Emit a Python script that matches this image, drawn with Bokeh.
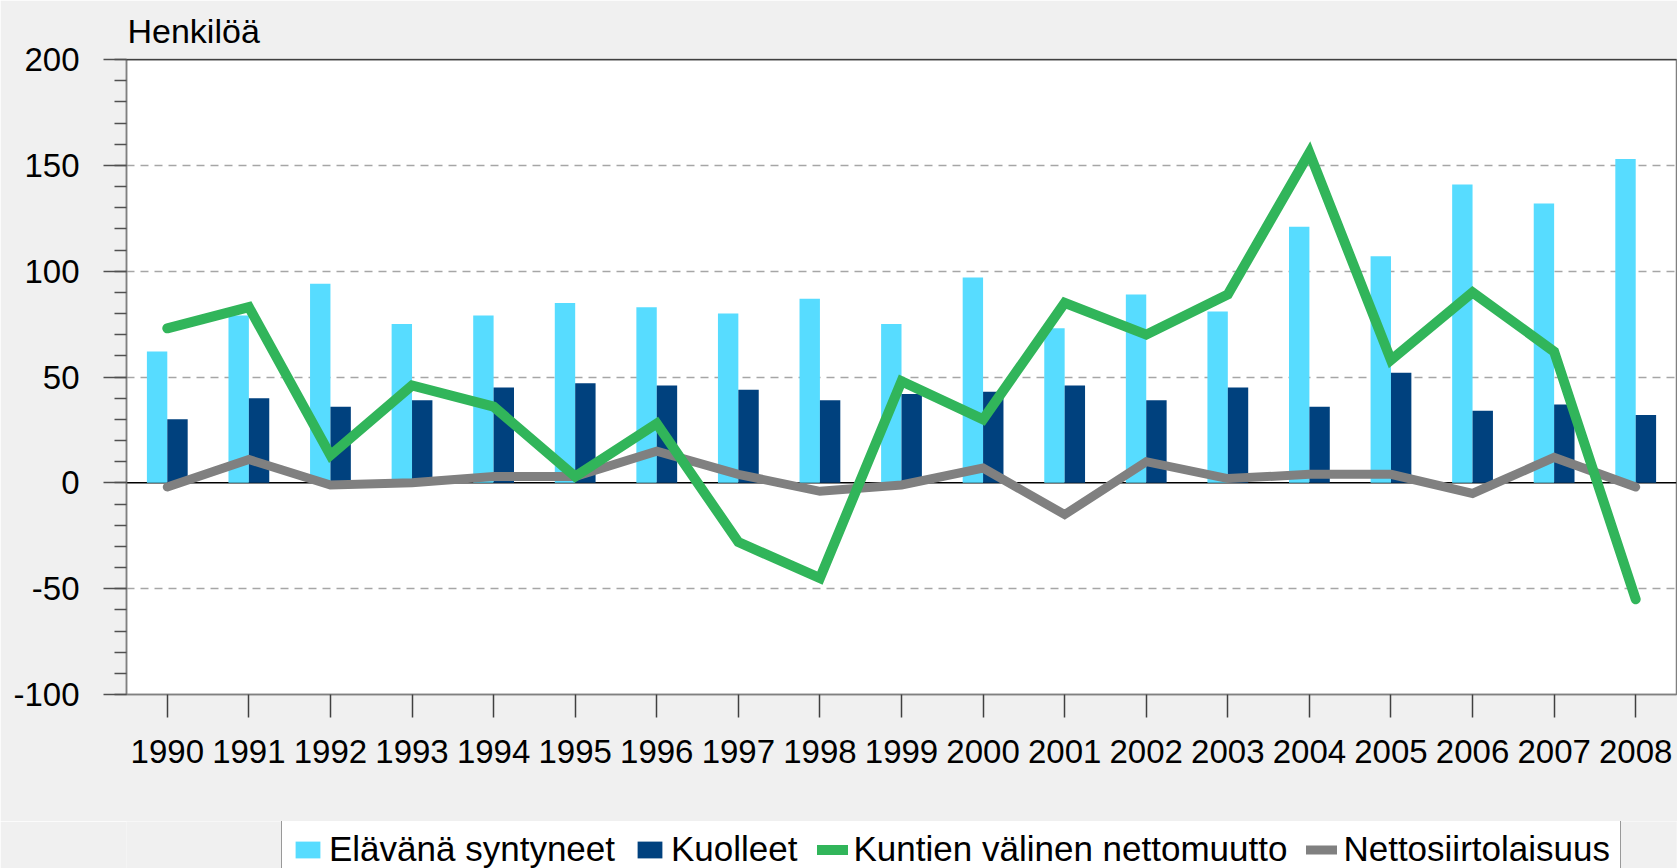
from bokeh.plotting import figure
from bokeh.layouts import column
from bokeh.models import (ColumnDataSource, FactorRange, Range1d, SingleIntervalTicker,
                          FixedTicker, Span, Legend, LegendItem, PrintfTickFormatter)
from bokeh.transform import dodge
from bokeh.embed import file_html
from bokeh.resources import INLINE

# ---- data ----
years = ["1990", "1991", "1992", "1993", "1994", "1995", "1996", "1997", "1998", "1999",
         "2000", "2001", "2002", "2003", "2004", "2005", "2006", "2007", "2008"]
born = [62, 79, 94, 75, 79, 85, 83, 80, 87, 75, 97, 73, 89, 81, 121, 107, 141, 132, 153]
died = [30, 40, 36, 39, 45, 47, 46, 44, 39, 42, 43, 46, 39, 45, 36, 52, 34, 37, 32]
net_domestic = [73, 83, 13, 46, 36, 3, 28, -28, -45, 48, 30, 85, 70, 89, 156, 58, 90, 62, -55]
net_migration = [-2, 11, -1, 0, 3, 3, 15, 4, -4, -1, 7, -15, 10, 2, 4, 4, -5, 12, -2]

series_names = ["Elävänä syntyneet", "Kuolleet", "Kuntien välinen nettomuutto", "Nettosiirtolaisuus"]
y_title = "Henkilöä"

FONT = "Liberation Sans"
C_BORN, C_DIED, C_DOM, C_MIG = "#57DCFF", "#00417E", "#31B55A", "#808080"
BG = "#F0F0F0"

src = ColumnDataSource(data=dict(year=years, born=born, died=died,
                                 net_domestic=net_domestic, net_migration=net_migration))

p = figure(x_range=FactorRange(factors=years, range_padding=0),
           y_range=Range1d(-100, 200),
           width=1677, height=821,
           min_border_left=126, min_border_right=1, min_border_top=59, min_border_bottom=127,
           output_backend="svg", toolbar_location=None, title=y_title)

p.border_fill_color = BG
p.background_fill_color = "white"
p.outline_line_color = "#808080"
p.outline_line_width = 1.5

p.title.text_font = FONT
p.title.text_font_size = "34px"
p.title.text_font_style = "normal"
p.title.text_color = "black"
p.title.align = "left"
p.title.offset = 1
p.title.standoff = 19

# grid
p.xgrid.grid_line_color = None
p.ygrid.ticker = FixedTicker(ticks=[-50, 50, 100, 150])
p.ygrid.grid_line_color = "#A6A6A6"
p.ygrid.grid_line_width = 1.5
p.ygrid.grid_line_dash = "8 6"

zero = Span(location=0, dimension="width", line_color="black", line_width=1.5, level="underlay")
p.add_layout(zero)
top = Span(location=200, dimension="width", line_color="black", line_width=1.5)
p.add_layout(top)

# bars
bar_kw = dict(bottom=0, width=0.25, source=src, line_color=None)
r_born = p.vbar(x=dodge("year", -0.125, range=p.x_range), top="born", fill_color=C_BORN, **bar_kw)
r_died = p.vbar(x=dodge("year", 0.125, range=p.x_range), top="died", fill_color=C_DIED, **bar_kw)

# lines
r_mig = p.line(x="year", y="net_migration", source=src, line_color=C_MIG, line_width=9,
               line_cap="round", line_join="miter")
r_dom = p.line(x="year", y="net_domestic", source=src, line_color=C_DOM, line_width=10,
               line_cap="round", line_join="miter")

# axes
p.yaxis.ticker = SingleIntervalTicker(interval=50, num_minor_ticks=5)
p.yaxis.formatter = PrintfTickFormatter(format="%d")
p.yaxis.axis_line_color = "#808080"
p.yaxis.axis_line_width = 1.5
p.yaxis.major_tick_out = 23
p.yaxis.major_tick_in = 0
p.yaxis.minor_tick_out = 12
p.yaxis.minor_tick_in = 0
p.yaxis.major_tick_line_color = "#505050"
p.yaxis.minor_tick_line_color = "#505050"
p.yaxis.major_tick_line_width = 1.5
p.yaxis.minor_tick_line_width = 1.5
p.yaxis.major_label_standoff = 24
p.yaxis.major_label_text_font = FONT
p.yaxis.major_label_text_font_size = "33px"
p.yaxis.major_label_text_color = "black"

p.xaxis.axis_line_color = "#808080"
p.xaxis.axis_line_width = 1.5
p.xaxis.major_tick_out = 23
p.xaxis.major_tick_in = 0
p.xaxis.major_tick_line_color = "#404040"
p.xaxis.major_tick_line_width = 1.5
p.xaxis.major_label_standoff = 22
p.xaxis.major_label_text_font = FONT
p.xaxis.major_label_text_font_size = "33px"
p.xaxis.major_label_text_color = "black"

# ---- legend strip below the chart (same data & styles, renderers hidden) ----
p2 = figure(x_range=p.x_range, y_range=Range1d(1000, 2000), width=1677, height=47,
            min_border=0, x_axis_location=None, y_axis_location=None,
            output_backend="svg", toolbar_location=None)
p2.border_fill_color = BG
p2.background_fill_color = BG
p2.outline_line_color = None
p2.grid.grid_line_color = None

l_born = p2.vbar(x=dodge("year", -0.125, range=p2.x_range), top="born", fill_color=C_BORN,
                 visible=False, **bar_kw)
l_died = p2.vbar(x=dodge("year", 0.125, range=p2.x_range), top="died", fill_color=C_DIED,
                 visible=False, **bar_kw)
l_dom = p2.line(x="year", y="net_domestic", source=src, line_color=C_DOM, line_width=10,
                line_cap="round", visible=False)
l_mig = p2.line(x="year", y="net_migration", source=src, line_color=C_MIG, line_width=9,
                line_cap="round", visible=False)

# the strip's frame is aligned with the chart frame (starts 126 px from the left)
legend = Legend(items=[LegendItem(label=series_names[0], renderers=[l_born]),
                       LegendItem(label=series_names[1], renderers=[l_died]),
                       LegendItem(label=series_names[2], renderers=[l_dom]),
                       LegendItem(label=series_names[3], renderers=[l_mig])],
                orientation="horizontal", location=(155, -12))
legend.label_text_font = FONT
legend.label_text_font_size = "35px"
legend.label_text_color = "black"
legend.glyph_width = 31
legend.glyph_height = 21
legend.label_standoff = 6
legend.spacing = 19
legend.padding = 10
legend.margin = 0
legend.border_line_color = "#333333"
legend.border_line_width = 1.5
legend.background_fill_color = "white"
legend.background_fill_alpha = 1
legend.inactive_fill_alpha = 0
p2.add_layout(legend, "center")

layout = column(p, p2, spacing=0)

open("out.html", "w").write(file_html(layout, INLINE))
